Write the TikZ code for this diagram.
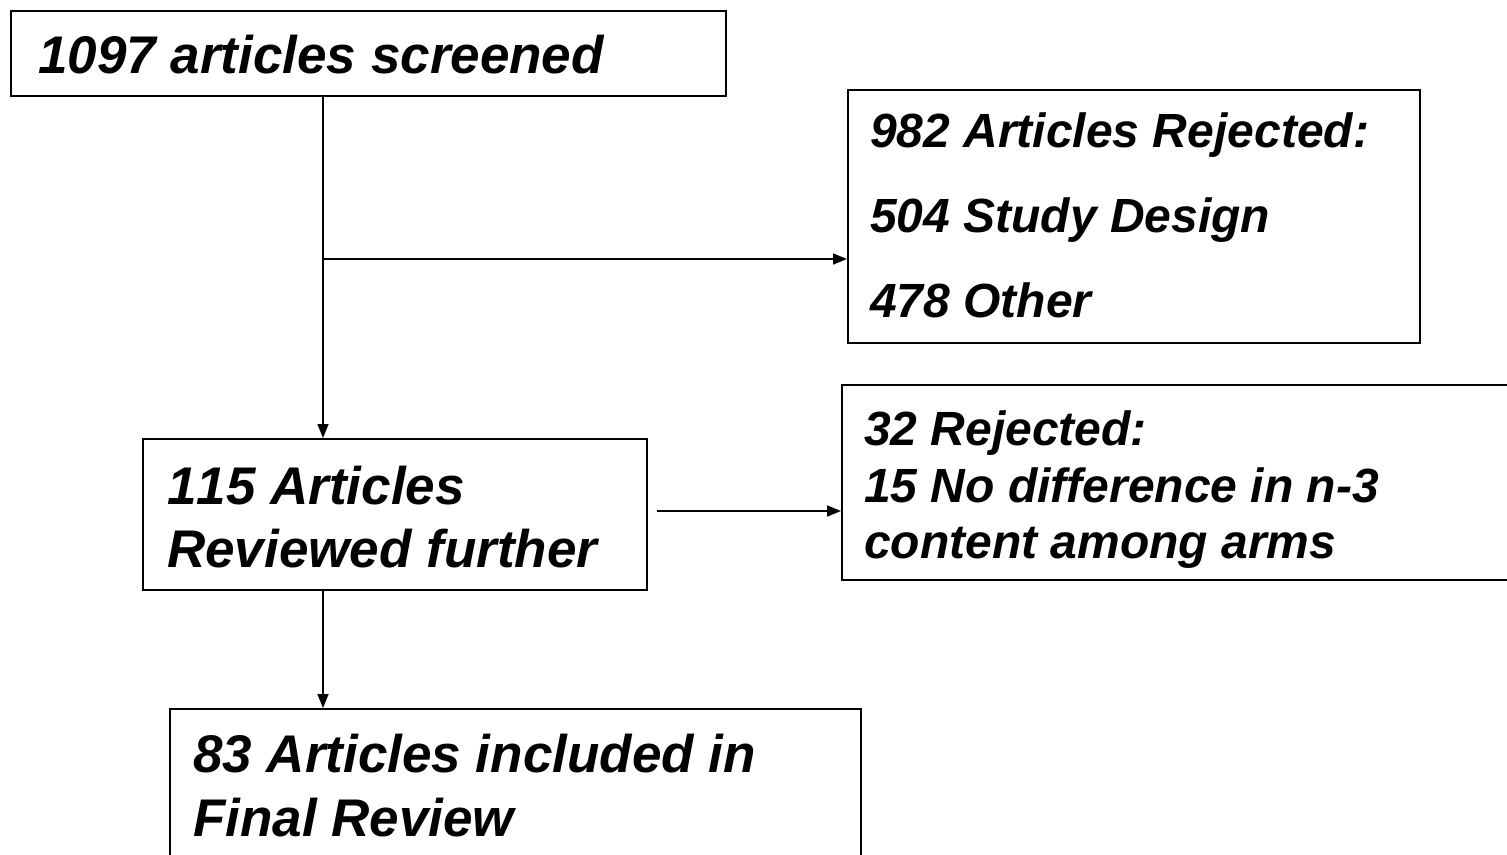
\documentclass[tikz,border=0pt]{standalone}
\usepackage{fontspec}
\setmainfont{Liberation Sans}[Kerning=Off]
\usetikzlibrary{arrows.meta}
\begin{document}
\begin{tikzpicture}[x=1pt,y=-1pt,
  box/.style={draw=black,line width=1.6pt,inner sep=0pt,anchor=north west},
  big/.style={anchor=base west,inner sep=0pt,font=\fontsize{53}{63}\selectfont\bfseries\itshape},
  small/.style={anchor=base west,inner sep=0pt,font=\fontsize{48}{57}\selectfont\bfseries\itshape},
  arr/.style={line width=1.6pt,-{Triangle[length=14pt,width=11pt]}}]
\useasboundingbox (0,0) rectangle (1507,854);
\fill[white] (0,0) rectangle (1507,854);
\clip (0,0) rectangle (1507,854);
% boxes
\node[box,minimum width=715pt,minimum height=85pt] (b1) at (10,10) {};
\node[box,minimum width=572pt,minimum height=253pt] (b2) at (847,89) {};
\node[box,minimum width=504pt,minimum height=151pt] (b3) at (142,438) {};
\node[box,minimum width=690pt,minimum height=195pt] (b4) at (841,384) {};
\node[box,minimum width=691pt,minimum height=170pt] (b5) at (169,708) {};
% texts
\node[big] (t1) at (38,73) {1097 articles screened};
\node[small] (t2a) at (870,147) {982 Articles Rejected:};
\node[small] (t2b) at (870,232) {504 Study Design};
\node[small] (t2c) at (870,317) {478 Other};
\node[big] (t3a) at (167,504) {115 Articles};
\node[big] (t3b) at (167,567) {Reviewed further};
\node[small] (t4a) at (864,445) {32 Rejected:};
\node[small] (t4b) at (864,502) {15 No difference in n-3};
\node[small] (t4c) at (864,558) {content among arms};
\node[big] (t5a) at (193,772) {83 Articles included in};
\node[big] (t5b) at (193,836) {Final Review};
% connectors
\coordinate (vx) at (323,0);
\coordinate (br) at (323,259);
\coordinate (hy) at (0,511);
\draw[arr] (vx |- b1.south) -- (vx |- b3.north);
\draw[arr] (br) -- (br -| b2.west);
\draw[arr] ([xshift=9pt]b3.east |- hy) -- (b4.west |- hy);
\draw[arr] (vx |- b3.south) -- (vx |- b5.north);
\end{tikzpicture}
\end{document}
